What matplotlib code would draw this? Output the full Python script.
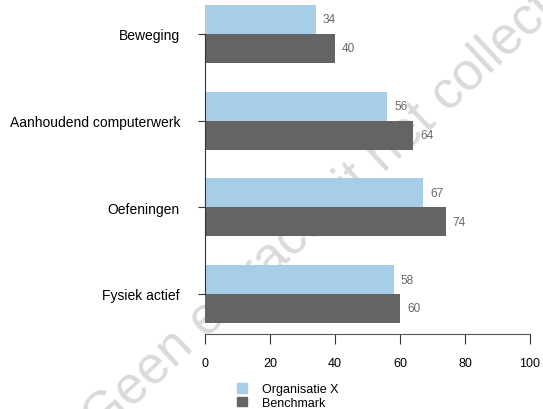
import numpy as np
import matplotlib
matplotlib.use("Agg")
import matplotlib.pyplot as plt
from matplotlib.patches import Patch

plt.rcParams["font.family"] = ["Liberation Sans", "DejaVu Sans"]

# DATA

categories = ["Beweging", "Aanhoudend computerwerk", "Oefeningen", "Fysiek actief"]
organisatie = [34, 56, 67, 58]
benchmark = [40, 64, 74, 60]
series_names = ["Organisatie X", "Benchmark"]
x_ticks = [0, 20, 40, 60, 80, 100]

blue = "#a8cde8"
dark = "#646464"

fig = plt.figure(figsize=(5.43, 4.10), dpi=100)
ax = fig.add_axes([205 / 543, 76 / 410, 325 / 543, 332 / 410])

# watermark behind the bars
fig.text(340 / 543, 1 - 195 / 410, "Geen extract uit het collectief",
         rotation=43, fontsize=38, color="#dadada",
         ha="center", va="center", zorder=0)
ax.set_zorder(1)
ax.patch.set_alpha(0)

y = -np.arange(len(categories))
h = 1 / 3

ax.barh(y + h / 2, organisatie, height=h, color=blue)
ax.barh(y - h / 2, benchmark, height=h, color=dark)

for yy, v in zip(y + h / 2, organisatie):
    ax.text(v + 2.2, yy, str(v), va="center", ha="left", fontsize=8.5, color="#666666")
for yy, v in zip(y - h / 2, benchmark):
    ax.text(v + 2.2, yy, str(v), va="center", ha="left", fontsize=8.5, color="#666666")

ax.set_xlim(0, 100)
ax.set_ylim(-3.45, 0.38)
ax.set_yticks(y)
ax.set_yticklabels(categories, fontsize=10)
ax.set_xticks(x_ticks)
ax.tick_params(axis="x", labelsize=9, length=7, pad=9, color="#333333")
ax.tick_params(axis="y", length=5, pad=13, color="#333333")

for s in ["top", "right"]:
    ax.spines[s].set_visible(False)
ax.spines["left"].set_bounds(-3, 0)
ax.spines["left"].set_color("#333333")
ax.spines["bottom"].set_bounds(0, 100)
ax.spines["bottom"].set_color("#555555")
ax.spines["bottom"].set_position(("outward", 1))

handles = [Patch(color=blue), Patch(color=dark)]
fig.legend(handles, series_names, loc="upper left", bbox_to_anchor=(231 / 543, 1 - 378 / 410),
           frameon=False, fontsize=9, handlelength=0.8, handleheight=0.8,
           handletextpad=1.2, labelspacing=0.1, borderpad=0)

fig.savefig("out.png", dpi=100)
